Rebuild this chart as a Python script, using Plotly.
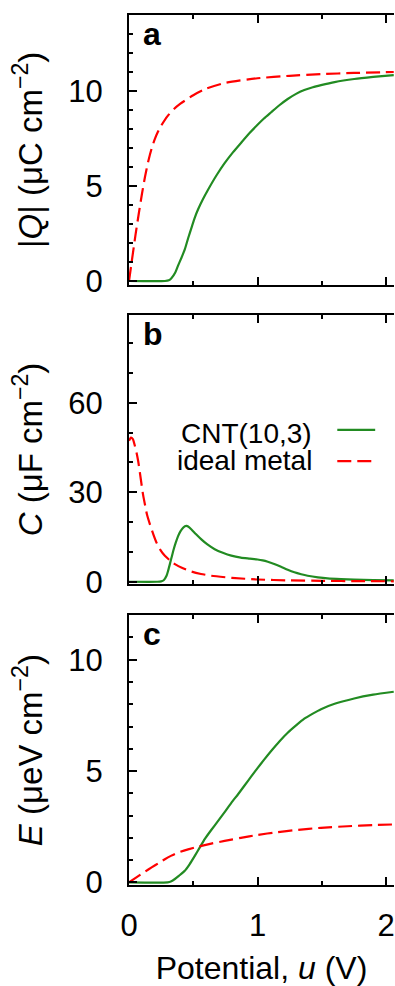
import plotly.graph_objects as go

# ---------------- data ----------------
# Panel a: |Q| (uC cm^-2)
u_Q_metal = [0, 0.025, 0.05, 0.075, 0.1, 0.125, 0.15, 0.175, 0.2, 0.225, 0.25, 0.3, 0.35,
             0.4, 0.5, 0.6, 0.75, 1.0, 1.25, 1.5, 1.75, 2.06]
Q_metal = [0, 1.2, 2.4, 3.5, 4.55, 5.5, 6.3, 6.95, 7.45, 7.85, 8.17, 8.68, 9.05,
           9.33, 9.78, 10.12, 10.43, 10.67, 10.8, 10.89, 10.95, 11.0]

u_Q_cnt = [0, 0.28, 0.31, 0.33, 0.36, 0.38, 0.41, 0.434, 0.46, 0.486, 0.51, 0.537, 0.575,
           0.615, 0.68, 0.744, 0.81, 0.873, 0.94, 1.0, 1.05, 1.106, 1.17, 1.235, 1.3,
           1.364, 1.43, 1.494, 1.6, 1.752, 1.9, 2.06]
Q_cnt = [0, 0, 0.04, 0.15, 0.45, 0.78, 1.25, 1.66, 2.25, 2.8, 3.3, 3.76, 4.3,
         4.8, 5.55, 6.2, 6.78, 7.28, 7.8, 8.22, 8.55, 8.88, 9.25, 9.58, 9.85,
         10.05, 10.2, 10.31, 10.47, 10.63, 10.74, 10.84]

# Panel b: C (uF cm^-2)
u_C_metal = [0, 0.015, 0.03, 0.047, 0.06, 0.072, 0.085, 0.098, 0.11, 0.124, 0.14, 0.163,
             0.19, 0.214, 0.245, 0.279, 0.32, 0.357, 0.42, 0.486, 0.56, 0.64, 0.8, 1.0,
             1.25, 1.5, 1.8, 2.06]
C_metal = [47.2, 48.3, 47.8, 45.3, 43.0, 40.3, 36.5, 32.5, 29.0, 25.9, 22.5, 19.2,
           15.8, 13.1, 10.6, 8.7, 7.1, 5.9, 4.5, 3.4, 2.6, 2.0, 1.3, 0.75,
           0.45, 0.3, 0.2, 0.15]

u_C_cnt = [0, 0.22, 0.25, 0.27, 0.292, 0.305, 0.318, 0.331, 0.344, 0.363, 0.382, 0.40,
           0.421, 0.435, 0.447, 0.46, 0.486, 0.52, 0.563, 0.61, 0.667, 0.73, 0.796,
           0.87, 0.94, 1.0, 1.04, 1.08, 1.13, 1.183, 1.235, 1.287, 1.34, 1.39, 1.47,
           1.545, 1.65, 1.752, 1.9, 2.06]
C_cnt = [0, 0, 0.1, 0.5, 2.0, 3.8, 5.9, 8.1, 10.3, 13.0, 15.3, 16.9,
         18.1, 18.6, 18.7, 18.5, 17.5, 16.0, 14.2, 12.5, 10.9, 9.7, 8.75,
         8.1, 7.75, 7.45, 7.15, 6.7, 5.95, 5.0, 4.0, 3.15, 2.5, 2.0, 1.45,
         1.1, 0.85, 0.7, 0.55, 0.45]

# Panel c: E (ueV cm^-2)
u_E_metal = [0, 0.072, 0.125, 0.176, 0.23, 0.279, 0.33, 0.382, 0.46, 0.537, 0.64, 0.744,
             0.87, 1.0, 1.15, 1.3, 1.494, 1.7, 1.9, 2.06]
E_metal = [0, 0.28, 0.48, 0.67, 0.86, 1.04, 1.2, 1.34, 1.48, 1.6, 1.74, 1.86,
           2.0, 2.13, 2.25, 2.35, 2.45, 2.52, 2.57, 2.6]

u_E_cnt = [0, 0.3, 0.33, 0.357, 0.39, 0.434, 0.47, 0.512, 0.55, 0.589, 0.64, 0.692,
           0.75, 0.796, 0.85, 0.899, 0.95, 1.0, 1.05, 1.106, 1.17, 1.235, 1.3, 1.364,
           1.43, 1.494, 1.6, 1.752, 1.9, 2.06]
E_cnt = [0, 0, 0.05, 0.15, 0.3, 0.52, 0.8, 1.19, 1.56, 1.94, 2.35, 2.75,
         3.2, 3.57, 3.97, 4.35, 4.75, 5.13, 5.5, 5.9, 6.33, 6.72, 7.05, 7.35,
         7.58, 7.78, 8.02, 8.26, 8.43, 8.56]

series_names = ["CNT(10,3)", "ideal metal"]
panel_labels = ["a", "b", "c"]
x_ticks = [0, 1, 2]

# ---------------- styling ----------------
GREEN = "#228B22"
RED = "#FF0000"
DASH = "14px,6px"
FONT = "Liberation Sans, Arial, Helvetica, sans-serif"
FS = 31

fig = go.Figure()

panels = [
    ("x", "y", u_Q_cnt, Q_cnt, u_Q_metal, Q_metal),
    ("x2", "y2", u_C_cnt, C_cnt, u_C_metal, C_metal),
    ("x3", "y3", u_E_cnt, E_cnt, u_E_metal, E_metal),
]
for xa, ya, uc, vc, um, vm in panels:
    fig.add_trace(go.Scatter(x=uc, y=vc, xaxis=xa, yaxis=ya, mode="lines",
                             line=dict(color=GREEN, width=2.2, shape="spline", smoothing=0.6),
                             name=series_names[0], showlegend=False))
    fig.add_trace(go.Scatter(x=um, y=vm, xaxis=xa, yaxis=ya, mode="lines",
                             line=dict(color=RED, width=2.2, dash=DASH,
                                       shape="spline", smoothing=0.6),
                             name=series_names[1], showlegend=False))

domains = [[0.6899, 1.0], [0.3455, 0.6556], [0.0, 0.3101]]
yranges = [[-0.2, 14.0], [-0.9, 89.5], [-0.12, 12.0]]
ydticks = [5, 30, 5]
yminor = [1, 10, 1]
ytitles = ["|<i>Q</i>| (μC cm<sup>−2</sup>)",
           "<i>C</i> (μF cm<sup>−2</sup>)",
           "<i>E</i> (μeV cm<sup>−2</sup>)"]

xbase = dict(range=[0, 2.062], showline=True, linewidth=2, linecolor="black",
             mirror="ticks", ticks="inside", ticklen=8, tickwidth=1.5, tickcolor="black",
             tickvals=x_ticks, showgrid=False, zeroline=False,
             minor=dict(dtick=0.5, tick0=0, ticks="inside", ticklen=4, tickwidth=1.5,
                        tickcolor="black", showgrid=False),
             ticklabeloverflow="allow",
             tickfont=dict(family=FONT, size=FS, color="black"))

layout = dict(width=395, height=986, margin=dict(l=129, r=0, t=15, b=97),
              paper_bgcolor="white", plot_bgcolor="white", showlegend=False,
              font=dict(family=FONT, size=FS, color="black"))

for i in range(3):
    n = "" if i == 0 else str(i + 1)
    xa = dict(xbase)
    xa["anchor"] = "y" + n
    if i < 2:
        xa["showticklabels"] = False
        xa["matches"] = "x3"
    else:
        xa["ticklabelstandoff"] = 12
        xa["title"] = dict(text="Potential, <i>u</i> (V)",
                           font=dict(family=FONT, size=32, color="black"), standoff=20)
    layout["xaxis" + n] = xa
    layout["yaxis" + n] = dict(
        domain=domains[i], range=yranges[i], anchor="x" + n,
        showline=True, linewidth=2, linecolor="black", mirror=False,
        ticks="inside", ticklen=8, tickwidth=1.5, tickcolor="black",
        dtick=ydticks[i], tick0=0, showgrid=False, zeroline=False,
        minor=dict(dtick=yminor[i], tick0=0, ticks="inside", ticklen=4, tickwidth=1.5,
                   tickcolor="black", showgrid=False),
        tickfont=dict(family=FONT, size=FS, color="black"),
        ticklabelstandoff=18,
        title=dict(text=ytitles[i], font=dict(family=FONT, size=33, color="black"),
                   standoff=16))
    # right-hand tick marks (frame lies just beyond the visible area)
    layout["yaxis" + str(i + 4)] = dict(
        overlaying="y" + n, matches="y" + n, side="right", anchor="x" + n,
        showline=False, ticks="inside", ticklen=4, tickwidth=1.5, tickcolor="black",
        dtick=ydticks[i], tick0=0, showticklabels=False, showgrid=False, zeroline=False)

fig.update_layout(**layout)

# panel letters
for i, lab in enumerate(panel_labels):
    n = "" if i == 0 else str(i + 1)
    fig.add_annotation(text="<b>%s</b>" % lab, xref="x%s domain" % n, yref="y%s domain" % n,
                       x=0, y=1, xanchor="left", yanchor="top", xshift=12, yshift=1,
                       showarrow=False, font=dict(family=FONT, size=32, color="black"))

# legend (text left, sample line right, as in the reference)
leg_y_text = [0.5195, 0.4875]
leg_y_line = [0.5232, 0.4871]
for name, yt, yl, col, dash in zip(series_names, leg_y_text, leg_y_line,
                                     [GREEN, RED], ["solid", DASH]):
    fig.add_annotation(text=name, xref="paper", yref="paper", x=0.699, y=yt,
                       xanchor="right", yanchor="middle", showarrow=False,
                       font=dict(family=FONT, size=28, color="black"))
    fig.add_shape(type="line", xref="paper", yref="paper", x0=0.786, x1=0.929,
                  y0=yl, y1=yl, line=dict(color=col, width=2.2, dash=dash))

fig.write_html("out.html")
